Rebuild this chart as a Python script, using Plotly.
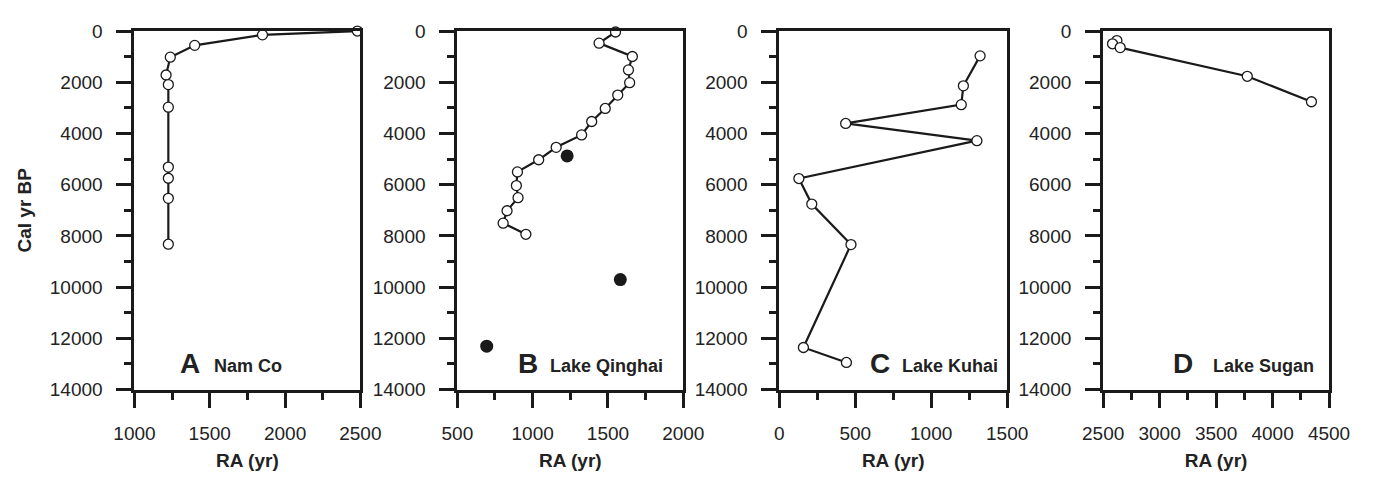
import plotly.graph_objects as go

# ---------------- data ----------------
# Panel A: Nam Co
namco_ra = [2480, 1850, 1400, 1238, 1210, 1225, 1225, 1225, 1225, 1225, 1225]
namco_age = [0, 150, 560, 1020, 1717, 2090, 2974, 5313, 5749, 6533, 8325]

# Panel B: Lake Qinghai (open circles, connected)
qinghai_ra = [1550, 1441, 1662, 1636, 1644, 1565, 1482, 1392, 1325, 1156, 1040,
              899, 892, 903, 830, 804, 955]
qinghai_age = [37, 473, 995, 1518, 2015, 2500, 3023, 3533, 4056, 4541, 5027,
               5500, 6035, 6508, 7017, 7502, 7937]
# Lake Qinghai filled points
qinghai2_ra = [1229, 1582, 695]
qinghai2_age = [4878, 9706, 12307]

# Panel C: Lake Kuhai
kuhai_ra = [1322, 1212, 1198, 437, 1301, 129, 214, 472, 159, 442]
kuhai_age = [970, 2140, 2874, 3609, 4280, 5760, 6757, 8338, 12357, 12942]

# Panel D: Lake Sugan
sugan_ra = [2622, 2583, 2651, 3776, 4344]
sugan_age = [373, 498, 647, 1767, 2762]

panel_letters = ["A", "B", "C", "D"]
panel_names = ["Nam Co", "Lake Qinghai", "Lake Kuhai", "Lake Sugan"]
x_ranges = [[1000, 2500], [500, 2000], [0, 1500], [2500, 4500]]
x_title = "RA (yr)"
y_title = "Cal yr BP"

# ---------------- layout geometry ----------------
W, H = 1384, 478
px_left = [117, 450, 782, 1116]
px_right = [350, 683, 1017, 1349]
y_top, y_bot = 22, 397
INK = "#1a1a1a"
TXT = "#222222"
FONT = "Liberation Sans, Arial, sans-serif"

fig = go.Figure()

open_marker = dict(symbol="circle", size=10, color="white", line=dict(color=INK, width=1.3))
line_style = dict(color=INK, width=2.2)

series = [
    (namco_ra, namco_age),
    (qinghai_ra, qinghai_age),
    (kuhai_ra, kuhai_age),
    (sugan_ra, sugan_age),
]
for i, (xs, ys) in enumerate(series):
    sfx = "" if i == 0 else str(i + 1)
    fig.add_trace(go.Scatter(x=xs, y=ys, mode="lines+markers", line=line_style,
                             marker=open_marker, xaxis="x" + sfx, yaxis="y" + sfx,
                             showlegend=False, cliponaxis=False))
    if i == 1:
        fig.add_trace(go.Scatter(x=qinghai2_ra, y=qinghai2_age, mode="markers",
                                 marker=dict(symbol="circle", size=13, color=INK),
                                 xaxis="x2", yaxis="y2", showlegend=False))

layout = dict(
    width=W, height=H,
    margin=dict(l=0, r=0, t=0, b=0),
    paper_bgcolor="white", plot_bgcolor="white",
    font=dict(family=FONT, color=TXT, size=19),
    showlegend=False,
)

annotations = []
for i in range(4):
    sfx = "" if i == 0 else str(i + 1)
    xdom = [px_left[i] / W, px_right[i] / W]
    ydom = [1 - y_bot / H, 1 - y_top / H]
    layout["xaxis" + sfx] = dict(
        domain=xdom, range=x_ranges[i], anchor="y" + sfx,
        dtick=500, tick0=0, ticks="outside", ticklen=15, tickwidth=2.5, tickcolor=INK,
        minor=dict(dtick=250, ticks="outside", ticklen=7, tickwidth=2.5, tickcolor=INK),
        showline=True, linewidth=3, linecolor=INK, mirror=True,
        showgrid=False, zeroline=False, tickformat="d",
        tickfont=dict(size=19, family=FONT, color=TXT),
        ticklabelstandoff=10,
        title=dict(text="<b>" + x_title + "</b>", font=dict(size=19, family=FONT, color=TXT),
                   standoff=11),
    )
    ya = dict(
        domain=ydom, range=[14000, 0], anchor="x" + sfx,
        dtick=2000, tick0=0, ticks="outside", ticklen=15, tickwidth=2.5, tickcolor=INK,
        minor=dict(dtick=1000, ticks="outside", ticklen=7, tickwidth=2.5, tickcolor=INK),
        showline=True, linewidth=3, linecolor=INK, mirror=True,
        showgrid=False, zeroline=False, tickformat="d",
        tickfont=dict(size=19, family=FONT, color=TXT),
        ticklabelstandoff=10,
    )
    if i == 0:
        ya["title"] = dict(text="<b>" + y_title + "</b>",
                           font=dict(size=19, family=FONT, color=TXT), standoff=14)
    layout["yaxis" + sfx] = ya

# panel labels
letter_x = [162, 510, 873, 1186]
name_x = [197, 543, 906, 1227]
for i in range(4):
    annotations.append(dict(text="<b>" + panel_letters[i] + "</b>", xref="paper", yref="paper",
                            x=letter_x[i] / W, y=1 - 370 / H, xanchor="left", yanchor="middle",
                            showarrow=False, font=dict(size=28, family=FONT, color=TXT)))
    annotations.append(dict(text="<b>" + panel_names[i] + "</b>", xref="paper", yref="paper",
                            x=name_x[i] / W, y=1 - 372 / H, xanchor="left", yanchor="middle",
                            showarrow=False, font=dict(size=18, family=FONT, color=TXT)))
layout["annotations"] = annotations

fig.update_layout(**layout)
fig.write_html("out.html")
